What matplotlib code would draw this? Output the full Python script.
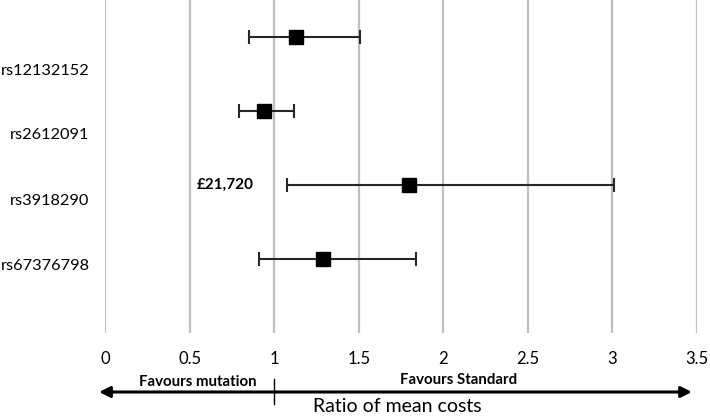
import matplotlib
matplotlib.use("Agg")
import matplotlib.pyplot as plt
import matplotlib.transforms as mtransforms

plt.rcParams['font.family'] = ['Lato', 'DejaVu Sans']

snps = ["rs12132152", "rs2612091", "rs3918290", "rs67376798"]
ratio = [1.13, 0.94, 1.80, 1.29]
ci_low = [0.85, 0.79, 1.075, 0.91]
ci_high = [1.51, 1.12, 3.01, 1.84]
y_pos = [4, 3, 2, 1]
label_y = [3.56, 2.69, 1.81, 0.92]
xticks = [0, 0.5, 1, 1.5, 2, 2.5, 3, 3.5]
xtick_labels = ["0", "0.5", "1", "1.5", "2", "2.5", "3", "3.5"]
annot_text = "£21,720"
annot_x = 0.71
annot_y = 2

fig = plt.figure(figsize=(7.1, 4.18), dpi=100)
ax = fig.add_axes([105/710, 1 - 333/418, (697 - 105)/710, 333/418])
ax.set_xlim(0, 3.5)
ax.set_ylim(0, 4.5)

for x in xticks:
    ax.axvline(x, color="#BFBFBF", lw=1.6, zorder=0)

xerr = [[r - l for r, l in zip(ratio, ci_low)], [h - r for r, h in zip(ratio, ci_high)]]
ax.errorbar(ratio, y_pos, xerr=xerr, fmt="s", color="black", ecolor="#262626",
            elinewidth=1.5, capsize=5, capthick=1.5, markersize=10, zorder=3)

ax.set_xticks(xticks)
ax.set_xticklabels(xtick_labels, fontsize=12)
ax.tick_params(axis="x", length=0, pad=13)
ax.set_yticks(label_y)
ax.set_yticklabels(snps, fontsize=11.8)
ax.tick_params(axis="y", length=0, pad=11)
for s in ax.spines.values():
    s.set_visible(False)

ax.text(annot_x, annot_y, annot_text, fontsize=11, fontweight="bold", ha="center", va="center")

trans = mtransforms.blended_transform_factory(ax.transData, fig.transFigure)
ya = 1 - 392/418
ax.annotate("", xy=(-0.035, ya), xytext=(3.47, ya), xycoords=trans, textcoords=trans,
            arrowprops=dict(arrowstyle="<|-|>", color="black", lw=2.2, mutation_scale=16, shrinkA=0, shrinkB=0),
            annotation_clip=False)
ax.plot([1, 1], [1 - 379/418, 1 - 404/418], transform=trans, color="black", lw=1, clip_on=False)
ax.text(0.55, 1 - 382/418, "Favours mutation", transform=trans, fontsize=10.8, fontweight="bold",
        ha="center", va="center")
ax.text(2.09, 1 - 380/418, "Favours Standard", transform=trans, fontsize=10.8, fontweight="bold",
        ha="center", va="center")
ax.text(1.73, 1 - 407/418, "Ratio of mean costs", transform=trans, fontsize=14,
        ha="center", va="center")

fig.savefig("out.png", dpi=100)
